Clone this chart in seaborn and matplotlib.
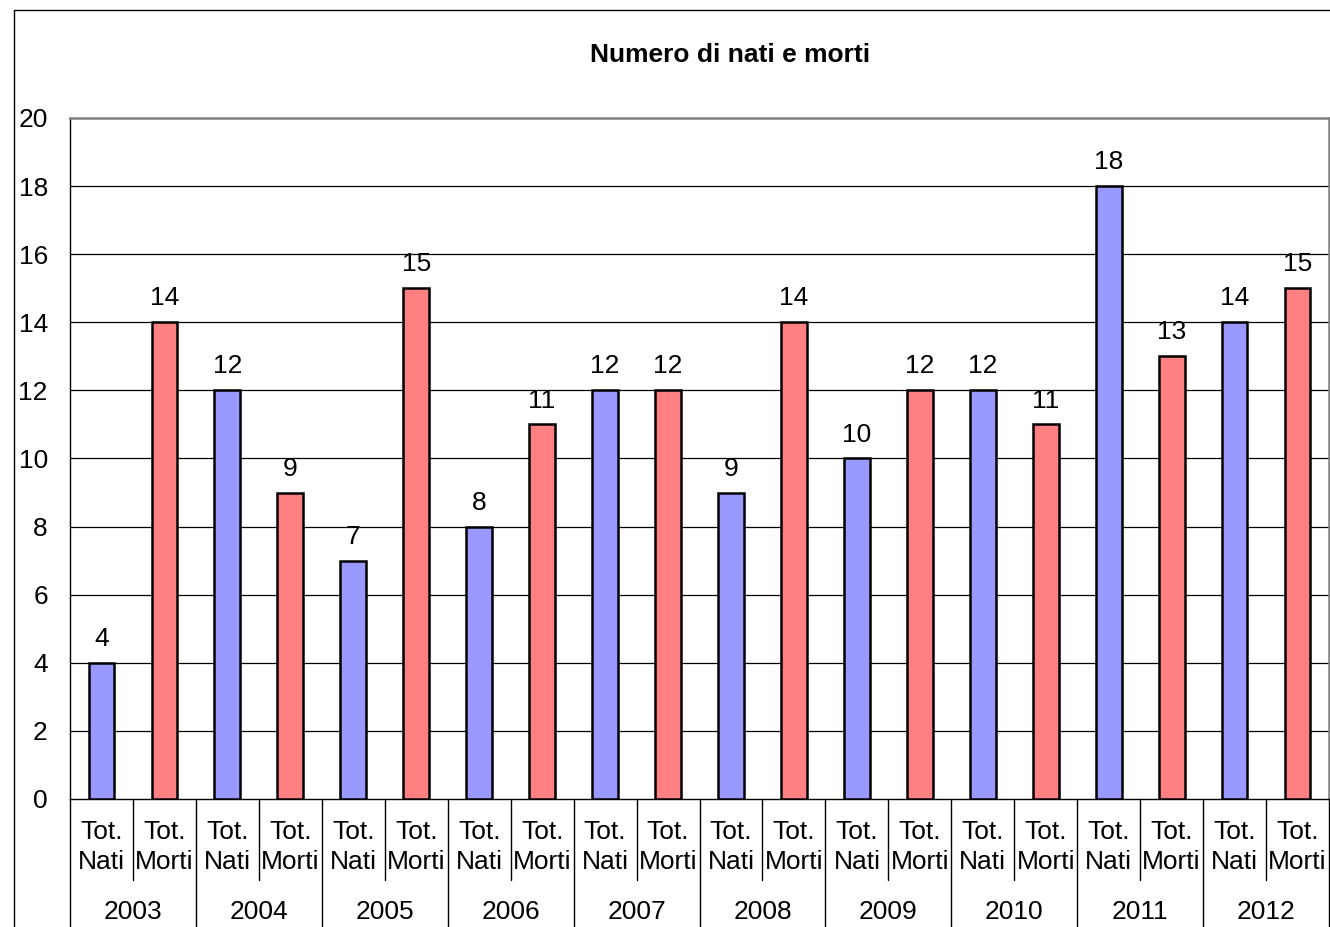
import matplotlib
matplotlib.use('Agg')
import matplotlib.pyplot as plt
from matplotlib.patches import Rectangle
import seaborn as sns
import pandas as pd

# chart data
anni = ['2003', '2004', '2005', '2006', '2007', '2008', '2009', '2010', '2011', '2012']
nati = [4, 12, 7, 8, 12, 9, 10, 12, 18, 14]
morti = [14, 9, 15, 11, 12, 14, 12, 11, 13, 15]
voci = ['Tot.\nNati', 'Tot.\nMorti']

rows = []
for anno, n, m in zip(anni, nati, morti):
    rows.append({'pos': anno + ' N', 'anno': anno, 'voce': voci[0], 'valore': n})
    rows.append({'pos': anno + ' M', 'anno': anno, 'voce': voci[1], 'valore': m})
df = pd.DataFrame(rows)

sns.set_style('white')
plt.rcParams['font.family'] = ['Liberation Sans', 'DejaVu Sans']
plt.rcParams['text.color'] = 'black'
plt.rcParams['ytick.color'] = 'black'

W, H = 1330, 927
fig = plt.figure(figsize=(W / 100, H / 100), dpi=100)
# plot area: x 70..1329, y 118..799 (pixels)
ax = fig.add_axes([70 / W, (H - 799) / H, 1259 / W, 681 / H])

sns.barplot(data=df, x='pos', y='valore', hue='voce', dodge=False,
            palette={voci[0]: '#9999FF', voci[1]: '#FF8080'}, saturation=1,
            width=0.41, edgecolor='black', linewidth=1.8,
            legend=False, ax=ax, zorder=3)

ax.set_xlim(-0.5, len(df) - 0.5)
ax.set_ylim(0, 20)
ax.set_yticks(range(0, 21, 2))
ax.set_yticklabels([str(v) for v in range(0, 21, 2)], fontsize=19)
ax.tick_params(axis='y', direction='out', length=6, width=1, color='black', pad=10)
ax.set_xticks([])
ax.set_xlabel('')
ax.set_ylabel('')

# gridlines
for v in range(2, 20, 2):
    ax.axhline(v, color='black', lw=0.9, zorder=1)

for side in ['top', 'right']:
    ax.spines[side].set_color('#808080')
    ax.spines[side].set_linewidth(1.8)
ax.spines['left'].set_color('black')
ax.spines['bottom'].set_color('black')
ax.spines['left'].set_linewidth(1)
ax.spines['bottom'].set_linewidth(1)

# data labels
for i, v in enumerate(df['valore']):
    ax.text(i, v + 0.35, str(v), ha='center', va='bottom', fontsize=19, zorder=4)

# multi-level category labels
tr = ax.get_xaxis_transform()
for i, voce in enumerate(df['voce']):
    ax.text(i, -0.07, voce, transform=tr, ha='center', va='center',
            fontsize=19, linespacing=1.3)
for k, anno in enumerate(anni):
    ax.text(2 * k + 0.5, -0.166, anno, transform=tr, ha='center', va='center',
            fontsize=19)

for k in range(len(df) + 1):
    x = k - 0.5
    y_end = -0.119 if k % 2 == 1 else -0.3
    ax.plot([x, x], [0, y_end], transform=tr, color='black', lw=1,
            clip_on=False)

# chart title (centred on the whole chart frame, not the plot area)
fig.text(730 / W, 1 - 55 / H, 'Numero di nati e morti', fontsize=19,
         fontweight='bold', ha='center', va='center')

# outer chart frame
fig.add_artist(Rectangle((14 / W, -0.1), 1.2, 1.1 - 10 / H,
                         transform=fig.transFigure, fill=False,
                         edgecolor='black', lw=1))

fig.savefig('out.png', dpi=100)
